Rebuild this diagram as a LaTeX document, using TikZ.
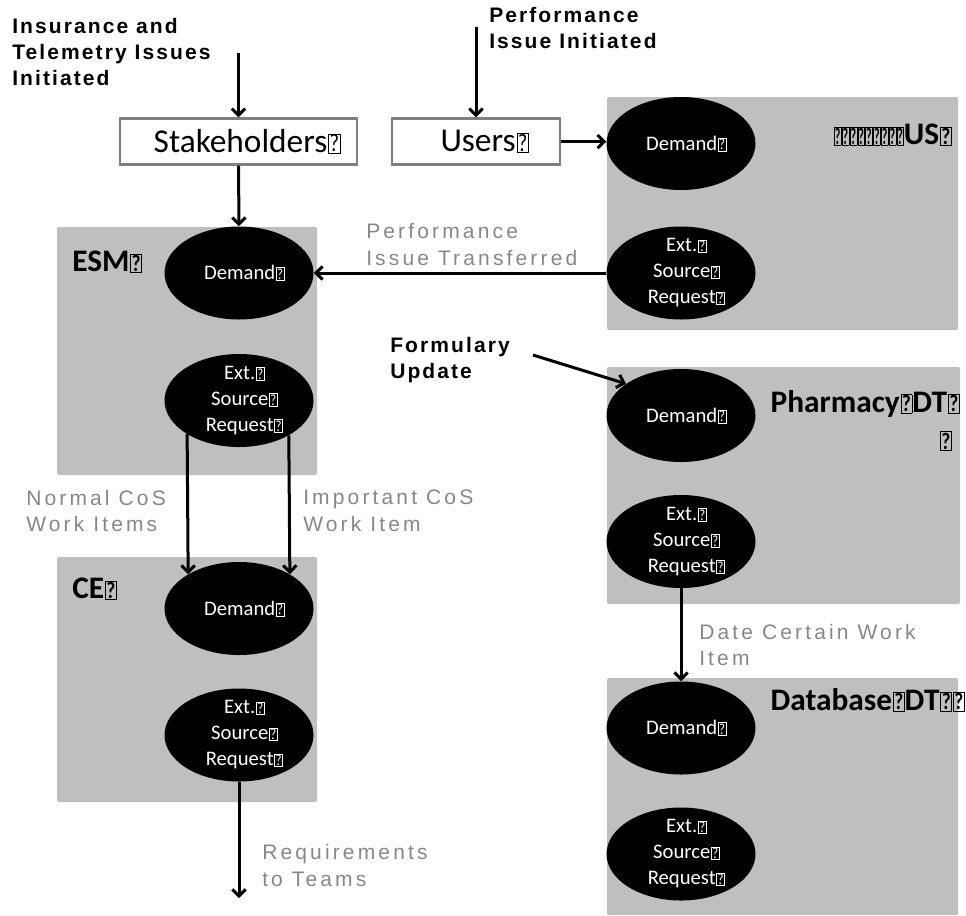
\documentclass[tikz,border=0pt]{standalone}
\usepackage{fontspec}
\usepackage{graphicx}
\setmainfont{Carlito}
\newfontfamily\blkfont[LetterSpace=10]{Liberation Sans}
\newfontfamily\gryfont[LetterSpace=15]{Liberation Sans}
\usetikzlibrary{shapes.geometric,arrows.meta}
\definecolor{boxgray}{RGB}{191,191,191}
\definecolor{lblgray}{RGB}{135,135,135}
\definecolor{edgegray}{RGB}{127,127,127}
\newcommand\qb{\kern0.03em\raisebox{0.02em}{\setlength\fboxsep{0.5pt}\setlength\fboxrule{0.5pt}\fbox{\scalebox{0.62}[0.75]{?}}}}
\newcommand\qbrow{\scalebox{0.62}[1]{\qb\qb\qb\qb\qb\qb\qb\qb\qb}}
\begin{document}
\begin{tikzpicture}[x=0.75pt,y=-0.75pt,
  conn/.style={line width=2.25pt,-{Straight Barb[length=5pt,width=10pt]}},
  panel/.style={fill=boxgray,rounded corners=1pt},
  oval/.style={ellipse,fill=black,minimum width=111.75pt,minimum height=69.75pt,inner sep=0pt},
  ovaltext/.style={text=white,align=center,inner sep=0pt,xshift=4pt,font=\fontsize{15.5pt}{19.5pt}\selectfont},
  actor/.style={draw=edgegray,line width=1.8pt,fill=white,minimum height=34.5pt,font=\fontsize{25pt}{29pt}\selectfont},
  paneltitle/.style={inner sep=0pt,font=\fontsize{23.5pt}{27pt}\selectfont\bfseries},
  evt/.style={align=left,inner sep=0pt,font=\blkfont\bfseries\fontsize{15.75pt}{19.5pt}\selectfont},
  flowlbl/.style={align=left,inner sep=0pt,text=lblgray,font=\gryfont\fontsize{15.75pt}{20pt}\selectfont}]
\useasboundingbox (0,0) rectangle (966,915);

% panels
\fill[panel] (607,97) rectangle (958,330);
\fill[panel] (57,227) rectangle (317,475);
\fill[panel] (57,557) rectangle (317,802);
\fill[panel] (607,367) rectangle (960,604);
\fill[panel] (607,678) rectangle (958,915);

% actor boxes
\node[actor,minimum width=177.75pt] (stake) at (238.5,141.5) {\hspace*{13pt}Stakeholders\qb};
\node[actor,minimum width=126pt] (users) at (476,141.5) {\hspace*{13pt}Users\qb};

% ellipses
\node[oval] (usdem) at (681,143.5) {};
\node[oval] (usext) at (681,273) {};
\node[oval] (esmdem) at (239,273) {};
\node[oval] (esmext) at (239,400.5) {};
\node[oval] (cedem) at (239,608.5) {};
\node[oval] (ceext) at (239,735) {};
\node[oval] (pdem) at (681,415.5) {};
\node[oval] (pext) at (681,541.5) {};
\node[oval] (ddem) at (681,728) {};
\node[oval] (dext) at (681,854) {};

\node[ovaltext] (usdemt) at (usdem) {Demand\qb};
\node[ovaltext] (usextt) at (usext) {Ext.\qb\\Source\qb\\Request\qb};
\node[ovaltext] (esmdemt) at (esmdem) {Demand\qb};
\node[ovaltext] (esmextt) at (esmext) {Ext.\qb\\Source\qb\\Request\qb};
\node[ovaltext] (cedemt) at (cedem) {Demand\qb};
\node[ovaltext] (ceextt) at (ceext) {Ext.\qb\\Source\qb\\Request\qb};
\node[ovaltext] (pdemt) at (pdem) {Demand\qb};
\node[ovaltext] (pextt) at (pext) {Ext.\qb\\Source\qb\\Request\qb};
\node[ovaltext] (ddemt) at (ddem) {Demand\qb};
\node[ovaltext] (dextt) at (dext) {Ext.\qb\\Source\qb\\Request\qb};

% panel titles
\node[paneltitle,anchor=west] (esmt) at (72,262) {ESM\qb};
\node[paneltitle,anchor=west] (cet) at (72,589) {CE\qb};
\node[paneltitle,anchor=east] (ust) at (952,135) {\qbrow US\qb};
\node[paneltitle,anchor=east] (pht) at (960,404) {Pharmacy\qb DT\qb};
\node[paneltitle,anchor=east] (phq) at (952,441) {\qb};
\node[paneltitle,anchor=east] (dbt) at (965,700) {Database\qb DT\qb\qb};

% event labels
\node[evt,anchor=west] (ins) at (12,52) {Insurance and\\Telemetry Issues\\Initiated};
\node[evt,anchor=west] (perf) at (489,28) {Performance\\Issue Initiated};
\node[evt,anchor=west] (form) at (390,360) {Formulary\\Update};

% flow labels
\node[flowlbl,anchor=west] (ptr) at (366,244.5) {Performance\\Issue Transferred};
\node[flowlbl,anchor=west] (ncos) at (26,511) {Normal CoS\\Work Items};
\node[flowlbl,anchor=west] (icos) at (303,511) {Important CoS\\Work Item};
\node[flowlbl,anchor=west] (dcw) at (699,645) {Date Certain Work\\Item};
\node[flowlbl,anchor=west] (rtt) at (262,865.5) {Requirements\\to Teams};

% connectors
\coordinate (insend) at (238.5,53);
\coordinate (perfend) at (476,27);
\coordinate (formstart) at (533,355);
\coordinate (reqend) at (239,898);
\draw[conn] (insend) -- (stake.north);
\draw[conn] (perfend) -- (users.north);
\draw[conn] (users.east) -- (users.east -| usdem.west);
\draw[conn] (stake.south) -- (esmdem.north);
\draw[conn] (usext.west) -- (esmdem.east);
\draw[conn] (esmext.213.7) -- (cedem.146.3);
\draw[conn] (esmext.325.4) -- (cedem.34.6);
\draw[conn] (ceext.south) -- (reqend);
\draw[conn] (formstart) -- (pdem.150);
\draw[conn] (pext.south) -- (ddem.north);
\end{tikzpicture}
\end{document}
